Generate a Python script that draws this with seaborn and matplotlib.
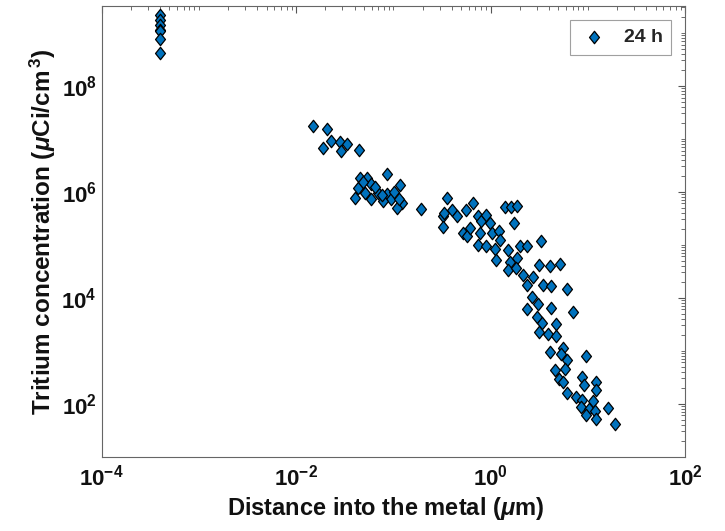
import numpy as np
import pandas as pd
import matplotlib
matplotlib.use("Agg")
import matplotlib.pyplot as plt
from matplotlib.path import Path
from matplotlib.ticker import LogLocator, NullFormatter
import seaborn as sns

# Tritium depth profile after 24 h exposure
depth_um = [
    # surface layer
    4.0e-4, 4.0e-4, 4.0e-4, 4.0e-4, 4.0e-4, 4.0e-4, 4.0e-4,
    # near-surface region
    0.0148, 0.0207, 0.0230, 0.0189, 0.0286, 0.0290, 0.0335, 0.0449,
    0.0868, 0.0458, 0.0543, 0.0429, 0.0407, 0.0587, 0.0703, 0.0587,
    0.117, 0.0853, 0.0959, 0.122, 0.108, 0.079, 0.195, 0.355,
    0.327, 0.323, 0.400, 0.049, 0.0649, 0.0765, 0.0514, 0.101, 0.114,
    # sub-micron to micron region
    0.333, 0.456, 0.557, 0.661, 0.524, 0.567, 0.613, 0.744, 0.806,
    0.892, 0.98, 0.775, 0.744, 0.907, 1.03, 1.21, 1.12, 1.14, 1.26,
    1.42, 1.62, 1.89, 1.76, 1.50, 1.60, 1.53, 1.86, 1.84, 2.01,
    2.35, 3.34, 2.18, 2.75, 2.39, 3.17, 4.07, 5.23, 3.48, 4.16,
    6.16, 2.65, 3.09, 2.39, 4.16, 7.02, 2.98, 3.42, 4.75, 3.17,
    3.91, 4.75,
    # deep bulk
    5.56, 4.07, 5.35, 6.16, 9.6, 4.57, 5.78, 5.05, 5.56, 8.73,
    9.23, 12.3, 12.2, 6.09, 7.59, 8.73, 11.3, 8.54, 10.4, 11.9,
    9.6, 12.3, 16.0, 18.9,
]

concentration = [
    2.12e9, 1.71e9, 1.42e9, 1.14e9, 1.06e9, 7.6e8, 4.14e8,
    1.77e7, 1.53e7, 9.2e6, 6.7e6, 8.8e6, 5.9e6, 7.9e6, 6.2e6,
    2.14e6, 1.79e6, 1.85e6, 1.2e6, 7.5e5, 1.38e6, 9.6e5, 7.2e5,
    1.32e6, 8.9e5, 7.2e5, 6.2e5, 5.0e5, 6.7e5, 4.8e5, 7.7e5,
    3.5e5, 2.2e5, 4.6e5, 1.51e6, 1.21e6, 8.6e5, 9.3e5, 9.8e5, 7.2e5,
    4.0e5, 3.46e5, 4.6e5, 6.2e5, 1.67e5, 1.44e5, 2.08e5, 3.46e5, 2.78e5,
    3.72e5, 2.59e5, 1.63e5, 1.0e5, 9.3e4, 1.67e5, 1.8e5, 8.3e4, 5.2e4, 1.25e5,
    5.2e5, 5.2e5, 5.5e5, 2.59e5, 8.1e4, 4.8e4, 3.3e4, 5.6e4, 3.7e4, 9.3e4,
    9.6e4, 1.16e5, 2.7e4, 2.5e4, 1.75e4, 4.2e4, 4.0e4, 4.3e4, 1.75e4, 1.67e4,
    1.45e4, 1.05e4, 7.5e3, 6.1e3, 6.3e3, 5.4e3, 4.4e3, 3.3e3, 3.2e3, 2.3e3,
    2.1e3, 1.9e3,
    1150, 950, 885, 660, 787, 440, 459, 297, 256, 318,
    221, 256, 184, 158, 133, 115, 112, 86, 80, 74,
    60, 52, 82, 42,
]

series_label = "24 h"
x_label = r"Distance into the metal ($\mu$m)"
y_label = r"Tritium concentration ($\mu$Ci/cm$^{\,3}$)"

df = pd.DataFrame({"depth": depth_um, "conc": concentration})

sns.set_style("white")
plt.rcParams["font.family"] = ["Liberation Sans", "DejaVu Sans"]
plt.rcParams["font.weight"] = "bold"
plt.rcParams["mathtext.fontset"] = "custom"
plt.rcParams["mathtext.rm"] = "Liberation Sans:bold"
plt.rcParams["mathtext.bf"] = "Liberation Sans:bold"
plt.rcParams["mathtext.it"] = "Liberation Sans:bold:italic"
plt.rcParams["mathtext.sf"] = "Liberation Sans:bold"

# MATLAB-style diamond (a bit taller than wide)
diamond = Path([(0, 1), (0.8, 0), (0, -1), (-0.8, 0), (0, 1)],
               [Path.MOVETO, Path.LINETO, Path.LINETO, Path.LINETO, Path.CLOSEPOLY])

fig = plt.figure(figsize=(7.25, 5.31), dpi=100)
ax = fig.add_axes([101.5 / 725, 1 - 456.7 / 531, (685 - 101.5) / 725, (456.7 - 6) / 531])

sns.scatterplot(data=df, x="depth", y="conc", ax=ax, marker=diamond, s=80,
                color="#0072BD", edgecolor="black", linewidth=0.9,
                label=series_label, zorder=3)

ax.set_xscale("log")
ax.set_yscale("log")
ax.set_xlim(1e-4, 1e2)
ax.set_ylim(10, 3.2e9)

ax.xaxis.set_major_locator(LogLocator(base=100.0, numticks=10))
ax.xaxis.set_minor_locator(LogLocator(base=10.0, subs=np.arange(1, 10), numticks=100))
ax.yaxis.set_major_locator(LogLocator(base=100.0, numticks=10))
ax.yaxis.set_minor_locator(LogLocator(base=10.0, subs=np.arange(1, 10), numticks=100))
ax.xaxis.set_minor_formatter(NullFormatter())
ax.yaxis.set_minor_formatter(NullFormatter())

ax.tick_params(which="both", direction="in", top=True, right=True,
               colors="#555555", labelcolor="#111111", labelsize=16)
ax.tick_params(which="major", length=5, width=0.8)
ax.tick_params(which="minor", length=3, width=0.6)
ax.tick_params(axis="x", which="major", pad=6)
for side in ax.spines.values():
    side.set_color("#666666")
    side.set_linewidth(0.8)

ax.set_xlabel(x_label, fontsize=17, fontweight="bold", color="#111111", labelpad=2)
ax.set_ylabel(y_label, fontsize=17.5, fontweight="bold", color="#111111", labelpad=2)
ax.xaxis.set_label_coords(0.487, -0.085)

leg = ax.legend(loc="upper right", frameon=True, fancybox=False, fontsize=14,
                edgecolor="#888888", borderaxespad=0.7, handletextpad=0.7,
                borderpad=0.45, handlelength=1.6)
leg.get_frame().set_linewidth(0.8)
for t in leg.get_texts():
    t.set_fontweight("bold")

fig.savefig("out.png", dpi=100, facecolor="white")
